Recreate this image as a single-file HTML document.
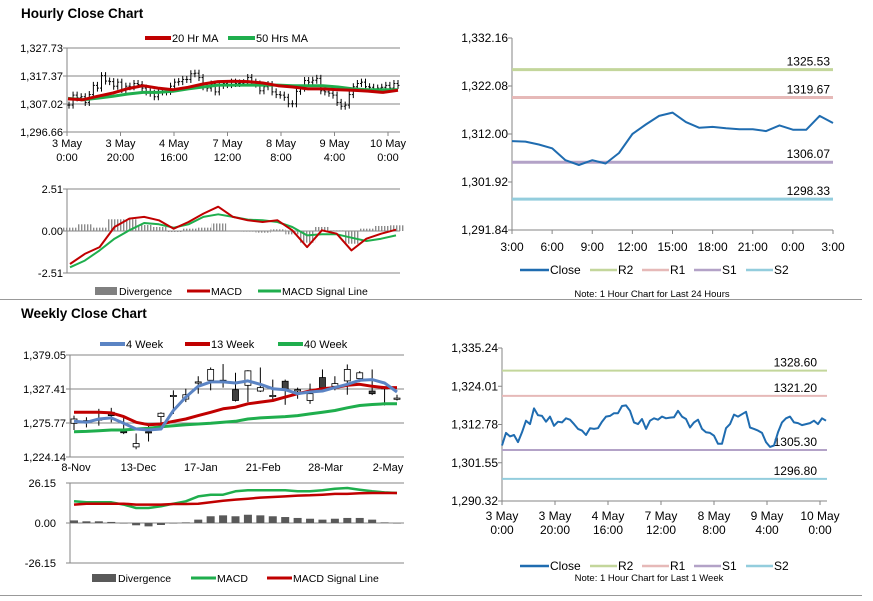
<!DOCTYPE html>
<html><head><meta charset="utf-8"><style>
body{margin:0;background:#fff;width:873px;height:601px;overflow:hidden;font-family:"Liberation Sans",Arial,sans-serif}
svg{position:absolute;left:0;top:0}
svg text{font-family:"Liberation Sans",Arial,sans-serif;font-size:10.5px;fill:#000}
</style></head><body>
<svg id="s" width="873" height="601"><defs><pattern id="stripes" width="3" height="4" patternUnits="userSpaceOnUse"><rect width="1.4" height="4" fill="#8c8c8c"/></pattern></defs></svg>
<script>
// ===== Data =====
const hourlyClose=[1306.6,1310.3,1309.3,1309.7,1307.6,1310.5,1313.9,1312.9,1317.5,1315.5,1315.3,1313.6,1315.1,1312.4,1313.6,1313.4,1314.6,1314.2,1312.9,1311.5,1311.0,1309.7,1311.7,1311.5,1311.7,1313.6,1315.1,1315.3,1316.1,1316.1,1318.2,1318.4,1316.8,1313.4,1312.9,1314.4,1311.5,1313.9,1314.6,1314.2,1315.1,1314.6,1314.8,1314.9,1316.8,1315.1,1314.4,1311.9,1313.4,1314.2,1311.5,1310.5,1310.3,1309.5,1307.1,1307.1,1311.7,1312.9,1315.7,1315.1,1315.8,1316.5,1311.9,1311.5,1311.0,1310.3,1307.6,1306.2,1306.6,1310.5,1313.4,1314.6,1315.1,1313.4,1313.2,1312.6,1312.9,1313.2,1313.9,1312.9,1314.6,1313.9];
const ma20=[1308.9,1308.6,1309.9,1311.1,1312.7,1313.8,1312.9,1312.3,1313.2,1314.4,1315.3,1315.4,1315.3,1314.8,1313.8,1313.3,1312.6,1312.6,1312.3,1312.1,1311.8,1311.3,1312.1];
const ma50=[1309.1,1308.6,1309.2,1309.9,1310.7,1311.3,1311.3,1311.7,1312.6,1313.3,1314.0,1314.0,1314.0,1314.0,1314.0,1313.8,1313.8,1313.8,1313.3,1312.6,1312.3,1312.3,1312.3];
const hMacd=[-1.97,-1.37,-0.96,0.24,0.74,0.84,0.64,0.14,0.54,1.04,1.45,0.84,0.64,0.54,0.64,0.04,-0.96,0.04,-0.16,-1.16,-0.46,-0.16,0.08];
const hSignal=[-2.17,-1.77,-1.16,-0.46,0.04,0.48,0.40,0.20,0.40,0.84,1.00,0.84,0.68,0.64,0.54,0.24,-0.26,-0.20,-0.20,-0.40,-0.60,-0.46,-0.26];
const hDiv=[0.2,0.4,0.2,0.7,0.7,0.36,0.24,-0.06,0.14,0.2,0.45,0,-0.04,-0.1,0.1,-0.2,-0.7,0.24,0.04,-0.76,0.14,0.3,0.34];
const hourlyXLabels=[["3 May","0:00"],["3 May","20:00"],["4 May","16:00"],["7 May","12:00"],["8 May","8:00"],["9 May","4:00"],["10 May","0:00"]];
const hourlyYTicks=[1327.73,1317.37,1307.02,1296.66];
const hMacdTicks=[2.51,0,-2.51];
const wOpen=[1275.3,1276.8,1281.9,1292.1,1263,1239.5,1262.5,1285.5,1317.7,1312.1,1338.2,1340.7,1340.7,1326.4,1333.0,1324.3,1317.7,1339.2,1326.4,1310.0,1344.8,1331.5,1339.7,1343.3,1324.3,1329.5,1313.6];
const wClose=[1281.9,1279.4,1281.9,1287.0,1261,1244.6,1261.0,1290.6,1317.7,1318.7,1338.2,1357.1,1340.7,1310.0,1355.0,1329.5,1317.7,1326.4,1326.4,1320.3,1329.5,1335.6,1357.1,1352.0,1320.3,1329.5,1313.6];
const wHigh=[1287.0,1284.5,1297.3,1298.8,1287.0,1259.9,1274.3,1292.1,1325.4,1327.9,1346.8,1360.1,1365.3,1352.0,1356.0,1360.1,1341.7,1341.7,1329.5,1335.6,1357.1,1346.8,1364.7,1354.5,1357.1,1331.5,1318.7];
const wLow=[1265.1,1269.1,1271.7,1276.8,1258.9,1235.9,1247.7,1271.7,1289.6,1307.5,1320.3,1325.4,1329.5,1308.5,1307.5,1322.8,1310.0,1303.4,1312.6,1304.9,1326.4,1325.4,1318.7,1338.2,1318.2,1302.4,1310.0];
const w4=[1278.3,1276.8,1281.9,1283.5,1275.3,1266.6,1265.1,1266.6,1294.7,1315.1,1331.5,1338.2,1338.2,1336.6,1339.7,1334.6,1327.9,1326.4,1320.3,1322.8,1324.3,1329.5,1334.6,1340.7,1341.7,1336.6,1322.8];
const w13=[1292.1,1292.1,1292.1,1291.1,1285.5,1276.8,1273.2,1274.3,1278.3,1281.9,1287.0,1292.1,1297.3,1299.8,1304.9,1307.5,1310.0,1315.1,1320.3,1324.3,1327.9,1329.5,1333.0,1334.6,1331.5,1329.5,1329.5];
const w40=[1262.5,1263.0,1264.1,1265.1,1265.1,1266.6,1267.6,1270.2,1271.7,1273.2,1274.3,1275.3,1276.8,1278.3,1281.9,1283.5,1284.5,1285.5,1287.0,1289.6,1292.1,1294.7,1298.8,1302.4,1303.9,1304.9,1304.9];
const wMacd=[14.2,13.5,13.5,13.5,12.0,9.8,9.8,10.9,12.6,14.2,17.4,18.5,18.5,20.7,21.4,21.4,21.4,21.4,20.7,20.7,21.4,22.4,22.9,21.8,20.7,20.0,19.6];
const wSignal=[12.0,12.6,12.6,12.6,12.6,12.0,12.0,12.0,12.4,12.4,12.6,13.5,14.6,15.3,15.9,16.6,17.0,17.4,17.9,18.1,18.5,19.0,19.0,19.4,19.6,19.6,19.6];
const wDiv=[1.7,1.1,1.1,0.7,0,-1.5,-2.2,-1.3,0,0.4,2.2,4.4,5.0,4.4,5.4,5.0,4.4,3.9,3.3,2.8,2.2,2.8,3.3,3.3,2.2,0.4,0];
const weeklyXLabels=["8-Nov","13-Dec","17-Jan","21-Feb","28-Mar","2-May"];
const weeklyYTicks=[1379.05,1327.41,1275.77,1224.14];
const wMacdTicks=[26.15,0,-26.15];
const dayClose=[1310.5,1310.4,1309.8,1309.0,1306.5,1305.5,1306.5,1305.8,1308.0,1312.0,1314.0,1315.8,1316.5,1314.5,1313.3,1313.5,1313.2,1313.0,1313.0,1312.6,1313.8,1312.9,1312.9,1315.8,1314.3];
const dayLevels=[1325.53,1319.67,1306.07,1298.33];
const dayYTicks=[1332.16,1322.08,1312.00,1301.92,1291.84];
const dayXLabels=["3:00","6:00","9:00","12:00","15:00","18:00","21:00","0:00","3:00"];
const weekLevels=[1328.60,1321.20,1305.30,1296.80];
const weekYTicks=[1335.24,1324.01,1312.78,1301.55,1290.32];
const levelNames=["R2","R1","S1","S2"];
const levelColors=["#c3d69b","#e6b9b8","#b3a2c7","#93cddd"];

// ===== Helpers =====
const S=document.getElementById('s');const NS='http://www.w3.org/2000/svg';
function el(t,a,p){const e=document.createElementNS(NS,t);for(const k in a)e.setAttribute(k,a[k]);(p||S).appendChild(e);return e;}
function lin(d0,d1,r0,r1){return v=>r0+(v-d0)*(r1-r0)/(d1-d0);}
function fmt(v){return v.toLocaleString('en-US',{minimumFractionDigits:2,maximumFractionDigits:2});}
function txt(x,y,s,anchor,size,weight){const t=el('text',{x:x,y:y,'text-anchor':anchor||'start'});if(size)t.style.fontSize=size+'px';if(weight)t.style.fontWeight=weight;t.textContent=s;return t;}
function poly(arr,xf,yf,color,w,name){const pts=arr.map((v,i)=>xf(i).toFixed(1)+','+yf(v).toFixed(1)).join(' ');const p=el('polyline',{points:pts,fill:'none',stroke:color,'stroke-width':w,'stroke-linejoin':'round'});


return p;}
function legLine(x1,x2,y,color,w,label,name,size){const g=el('g',{});


el('line',{x1:x1,x2:x2,y1:y,y2:y,stroke:color,'stroke-width':w},g);const t=txt(x2+1,y+4,label,'start',size);g.appendChild(t);}
function legBox(x1,x2,y,color,label,name){const g=el('g',{});


el('rect',{x:x1,y:y-4,width:x2-x1,height:8,fill:color},g);g.appendChild(txt(x2+2,y+4,label));}
function yAxisGrid(ticks,yf,x0,x1,grid,labX,size){ticks.forEach(v=>{const y=yf(v);if(grid)el('line',{x1:x0,x2:x1,y1:y,y2:y,stroke:'#868686','stroke-width':1});el('line',{x1:x0-4,x2:x0,y1:y,y2:y,stroke:'#868686'});const t=txt(labX,y+4,fmt(v),'end',size);

});
el('line',{x1:x0,x2:x0,y1:yf(ticks[0]),y2:yf(ticks[ticks.length-1]),stroke:'#868686'});}

// ===== Titles and separators =====
const t1=txt(21,18,'Hourly Close Chart','start',13.5,'bold');


const t2=txt(21,318,'Weekly Close Chart','start',13.5,'bold');


el('line',{x1:0,x2:862,y1:299.5,y2:299.5,stroke:'#999'});
el('line',{x1:0,x2:862,y1:595.5,y2:595.5,stroke:'#999'});

// ===== Hourly candle chart =====
(function(){const x0=67,x1=400,yf=lin(1327.73,1296.66,48,132);
yAxisGrid(hourlyYTicks,yf,x0,x1,true,63,11);
const n=hourlyClose.length,xf=lin(0,n-1,69,398);
const g=el('g',{});


hourlyClose.forEach((c,i)=>{const o=i?hourlyClose[i-1]:c;const hi=Math.max(o,c)+1.3,lo=Math.min(o,c)-1.3;const x=xf(i);
el('line',{x1:x,x2:x,y1:yf(hi),y2:yf(lo),stroke:'#000','stroke-width':1},g);
el('line',{x1:x-1.5,x2:x,y1:yf(o),y2:yf(o),stroke:'#000'},g);el('line',{x1:x,x2:x+1.5,y1:yf(c),y2:yf(c),stroke:'#000'},g);});
const mf=lin(0,ma20.length-1,68,398);
poly(ma50,mf,yf,'#1fae4d',3,'ma-50-line');poly(ma20,mf,yf,'#c00000',3,'ma-20-line');
const tf=lin(0,hourlyXLabels.length-1,67,388);
hourlyXLabels.forEach((l,i)=>{const x=tf(i);el('line',{x1:x,x2:x,y1:132,y2:136,stroke:'#868686'});const a=txt(x,147,l[0],'middle',11);


txt(x,161,l[1],'middle',11);});
legLine(145,171,38,'#c00000',4,'20 Hr MA','legend-20hr-ma',11);legLine(228,255,38,'#1fae4d',4,'50 Hrs MA','legend-50hrs-ma',11);
})();

// ===== Hourly MACD =====
(function(){const x0=67,x1=400,yf=lin(2.51,-2.51,189,273);
yAxisGrid(hMacdTicks,yf,x0,x1,true,63,11);
const xf=lin(0,hDiv.length-1,70,396);
hDiv.forEach((v,i)=>{const r=el('rect',{x:xf(i)-7,y:Math.min(yf(v),yf(0)),width:15,height:Math.abs(yf(v)-yf(0)),fill:'url(#stripes)'});

});
poly(hSignal,xf,yf,'#1fae4d',2,'macd-signal-line');poly(hMacd,xf,yf,'#c00000',2,'macd-line');
legBox(95,117,291,'#808080','Divergence','legend-divergence');legLine(187,210,291,'#c00000',3,'MACD','legend-macd');legLine(258,281,291,'#1fae4d',3,'MACD Signal Line','legend-macd-signal');
})();

// ===== Weekly candle chart =====
(function(){const x0=70,x1=404,yf=lin(1379.05,1224.14,355,457);
yAxisGrid(weeklyYTicks,yf,x0,x1,true,66,11);
const xf=lin(0,wClose.length-1,74,397);
wClose.forEach((c,i)=>{const o=wOpen[i],x=xf(i);const g=el('g',{});


el('line',{x1:x,x2:x,y1:yf(wHigh[i]),y2:yf(wLow[i]),stroke:'#000'},g);
const top=yf(Math.max(o,c)),h=Math.max(1.2,Math.abs(yf(o)-yf(c)));
el('rect',{x:x-3,y:top,width:6,height:h,fill:c>=o?'#fff':'#404040',stroke:'#000','stroke-width':0.8},g);});
poly(w40,xf,yf,'#1fae4d',3,'ma-40-week');poly(w13,xf,yf,'#c00000',3,'ma-13-week');poly(w4,xf,yf,'#5b84c4',3,'ma-4-week');
const tf=lin(0,weeklyXLabels.length-1,76,388);
weeklyXLabels.forEach((l,i)=>{const a=txt(tf(i),471,l,'middle',11);

});
legLine(100,125,344,'#5b84c4',4,'4 Week','legend-4-week',11);legLine(185,210,344,'#c00000',4,'13 Week','legend-13-week',11);legLine(278,303,344,'#1fae4d',4,'40 Week','legend-40-week',11);
})();

// ===== Weekly MACD =====
(function(){const x0=70,x1=404,yf=lin(26.15,-26.15,483,563);
yAxisGrid(wMacdTicks,yf,x0,x1,true,56,11);
const xf=lin(0,wDiv.length-1,74,397);
wDiv.forEach((v,i)=>{const r=el('rect',{x:xf(i)-4,y:Math.min(yf(v),yf(0)),width:8,height:Math.max(0.5,Math.abs(yf(v)-yf(0))),fill:'#595959'});

});
poly(wMacd,xf,yf,'#1fae4d',2.5,'weekly-macd-line');poly(wSignal,xf,yf,'#c00000',2.5,'weekly-signal-line');
legBox(92,116,578,'#595959','Divergence','legend-divergence');legLine(191,216,578,'#1fae4d',3,'MACD','legend-macd');legLine(267,292,578,'#c00000',3,'MACD Signal Line','legend-macd-signal');
})();

// ===== Right pivot charts =====
function pivot(o){const yf=lin(o.ticks[0],o.ticks[o.ticks.length-1],o.y0,o.y1);
yAxisGrid(o.ticks,yf,o.x0,o.x0,false,o.x0-4,12);
el('line',{x1:o.x0,x2:o.x1,y1:o.y1,y2:o.y1,stroke:'#868686'});
o.levels.forEach((v,i)=>{const l=el('line',{x1:o.x0,x2:o.x1,y1:yf(v),y2:yf(v),stroke:levelColors[i],'stroke-width':o.lw});


txt(o.labX,yf(v)-4,v.toFixed(2),'end',12);});
const xf=lin(0,o.data.length-1,o.x0,o.dataEnd);
poly(o.data,xf,yf,'#1f6cb0',2,'close-line');
const tf=lin(0,o.xl.length-1,o.x0,o.xlEnd);
o.xl.forEach((l,i)=>{const x=tf(i);el('line',{x1:x,x2:x,y1:o.y1,y2:o.y1+4,stroke:'#868686'});
if(Array.isArray(l)){txt(x,o.y1+19,l[0],'middle',12);txt(x,o.y1+33,l[1],'middle',12);}else{const a=txt(x,o.y1+21,l,'middle',12);

}});
let lx=o.legX;legLine(lx,lx+29,o.legY,'#1f6cb0',2.5,'Close','legend-close',12);lx+=70;
levelNames.forEach((n,i)=>{legLine(lx,lx+27,o.legY,levelColors[i],2.5,n,'legend-'+n.toLowerCase(),12);lx+=o.legStep;});
const nt=txt(o.noteX,o.noteY,o.note,'middle',9.5);

}
pivot({x0:512,x1:833,y0:38,y1:230,ticks:dayYTicks,levels:dayLevels,lw:3,labX:830,data:dayClose,dataEnd:833,xl:dayXLabels,xlEnd:833,legX:520,legY:270,legStep:52,note:'Note: 1 Hour Chart for Last 24 Hours',noteX:652,noteY:297});
pivot({x0:502,x1:827,y0:348,y1:501,ticks:weekYTicks,levels:weekLevels,lw:2,labX:817,data:hourlyClose,dataEnd:826,xl:hourlyXLabels,xlEnd:820,legX:520,legY:566,legStep:52,note:'Note: 1 Hour Chart for Last 1 Week',noteX:649,noteY:581});
</script>
</body></html>
